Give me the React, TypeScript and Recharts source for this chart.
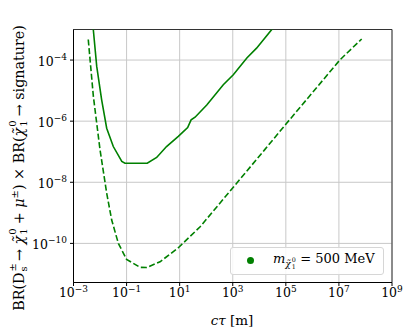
import React from "react";
import { LineChart, Line, XAxis, YAxis, CartesianGrid, ReferenceArea } from "recharts";

// solid curve (observed limit)
const ctauSolid = [5.25e-3, 5.57e-3, 7.5e-3, 1.15e-2, 1.78e-2, 3.16e-2, 6.6e-2, 8.7e-2, 0.6, 1.36, 3.2, 8.9, 20, 27, 38, 105, 440, 1050, 3400, 7900, 29500, 40000];
const brSolid = [1.8e-3, 1e-3, 6.2e-5, 5.0e-6, 5.9e-7, 1.48e-7, 4.8e-8, 4.2e-8, 4.2e-8, 6.5e-8, 1.48e-7, 3.2e-7, 6.2e-7, 1.1e-6, 1.35e-6, 3.4e-6, 1.55e-5, 3.3e-5, 1.17e-4, 2.45e-4, 1e-3, 1.6e-3];

// dashed curve (expected)
const ctauDashed = [3.6e-3, 5.6e-3, 1e-2, 1.78e-2, 2.75e-2, 4.9e-2, 0.1, 0.32, 0.575, 1.82, 8.9, 59, 1050, 15800, 107000, 1.1e7, 7.2e7];
const brDashed = [4.7e-4, 6.5e-6, 1.15e-7, 4.4e-9, 5.8e-10, 1.0e-10, 3.0e-11, 1.65e-11, 1.62e-11, 2.5e-11, 7.2e-11, 3.5e-10, 6.9e-9, 1.15e-7, 8.5e-7, 1.02e-4, 4.9e-4];

const xTicks = [1e-3, 1e-1, 1e1, 1e3, 1e5, 1e7, 1e9];
const yTicks = [1e-10, 1e-8, 1e-6, 1e-4];
const xDomain = [1e-3, 1e9];
const yDomain = [5.25e-12, 1e-3];

const solidData = ctauSolid.map((x, i) => ({ x, y: brSolid[i] }));
const dashedData = ctauDashed.map((x, i) => ({ x, y: brDashed[i] }));

const FONT = "'DejaVu Serif', 'Liberation Serif', serif";
const GREEN = "#008000";

const expOf = (v: number) => {
  const e = Math.round(Math.log10(v));
  return e < 0 ? "\u2212" + Math.abs(e) : String(e);
};

const XTick = (props: any) => {
  const { x, y, payload } = props;
  return (
    <text x={x} y={y + 9} textAnchor="middle" fontFamily={FONT} fontSize={12.5} fill="#000">
      <tspan>10</tspan>
      <tspan dy={-5.5} fontSize={9}>{expOf(payload.value)}</tspan>
    </text>
  );
};

const YTick = (props: any) => {
  const { x, y, payload } = props;
  return (
    <text x={x} y={y + 5.5} textAnchor="end" fontFamily={FONT} fontSize={12.5} fill="#000">
      <tspan>10</tspan>
      <tspan dy={-5.5} fontSize={9}>{expOf(payload.value)}</tspan>
    </text>
  );
};

// stacked super/subscript, e.g. D_s^±
function SubSup({ sub, sup }: { sub: string; sup: string }) {
  return (
    <span
      style={{
        display: "inline-block",
        position: "relative",
        width: "0.5em",
        height: "1em",
        fontSize: "0.7em",
        marginLeft: 1,
        marginRight: 1,
      }}
    >
      <span style={{ position: "absolute", left: 0, top: "-0.55em", lineHeight: 1 }}>{sup}</span>
      <span style={{ position: "absolute", left: 0, top: "0.55em", lineHeight: 1 }}>{sub}</span>
    </span>
  );
}

const chi = <span style={{ fontStyle: "italic" }}>{"\u03c7\u0303"}</span>;

export default function App() {
  return (
    <div style={{ position: "relative", width: 395, height: 327, fontFamily: FONT }}>
      <LineChart width={395} height={327} margin={{ top: 21.5, right: 11, bottom: 22.5, left: 15.5 }}>
        <CartesianGrid stroke="#c8c8c8" strokeWidth={1} />
        <XAxis
          dataKey="x"
          type="number"
          scale="log"
          domain={xDomain}
          ticks={xTicks}
          interval={0}
          allowDataOverflow
          height={30}
          tickSize={3.5}
          tickMargin={2}
          tick={<XTick />}
          axisLine={{ stroke: "#000" }}
          tickLine={{ stroke: "#000" }}
        />
        <YAxis
          dataKey="y"
          type="number"
          scale="log"
          domain={yDomain}
          ticks={yTicks}
          interval={0}
          allowDataOverflow
          width={50}
          tickSize={3.5}
          tickMargin={3}
          tick={<YTick />}
          axisLine={{ stroke: "#000" }}
          tickLine={{ stroke: "#000" }}
        />
        <ReferenceArea x1={xDomain[0]} x2={xDomain[1]} y1={yDomain[0]} y2={yDomain[1]} fill="none" stroke="#333" strokeWidth={1} />
        <Line data={solidData} dataKey="y" stroke={GREEN} strokeWidth={1.6} dot={false} isAnimationActive={false} />
        <Line data={dashedData} dataKey="y" stroke={GREEN} strokeWidth={1.6} strokeDasharray="6 2.6" dot={false} isAnimationActive={false} />
      </LineChart>

      {/* y label */}
      <div
        style={{
          position: "absolute",
          left: 10,
          top: 160,
          transform: "translate(-50%, -50%) rotate(-90deg)",
          whiteSpace: "nowrap",
          fontSize: 14.3,
          lineHeight: 1,
        }}
      >
        BR(D<SubSup sub="s" sup="±" /> → {chi}
        <SubSup sub="1" sup="0" /> + <i>μ</i>
        <span style={{ fontSize: "0.7em", verticalAlign: "0.55em" }}>±</span>) × BR({chi}
        <SubSup sub="1" sup="0" /> → signature)
      </div>

      {/* x label */}
      <div
        style={{
          position: "absolute",
          left: 224,
          top: 312,
          transform: "translate(-50%, -50%)",
          whiteSpace: "nowrap",
          fontSize: 13.5,
        }}
      >
        <i>cτ</i> [m]
      </div>

      {/* legend */}
      <div
        style={{
          position: "absolute",
          left: 222,
          top: 238.7,
          width: 154,
          height: 28,
          boxSizing: "border-box",
          border: "1px solid #d6d6d6",
          borderRadius: 3,
          background: "rgba(255,255,255,0.85)",
          display: "flex",
          alignItems: "center",
          fontSize: 13,
        }}
      >
        <span style={{ width: 7, height: 7, borderRadius: "50%", background: GREEN, marginLeft: 16, marginRight: 19 }} />
        <span style={{ whiteSpace: "nowrap", lineHeight: 1 }}>
          <i>m</i>
          <span style={{ display: "inline-block", fontSize: "0.7em", verticalAlign: "-0.45em" }}>
            {chi}
            <SubSup sub="1" sup="0" />
          </span>{" "}
          = 500 MeV
        </span>
      </div>
    </div>
  );
}
